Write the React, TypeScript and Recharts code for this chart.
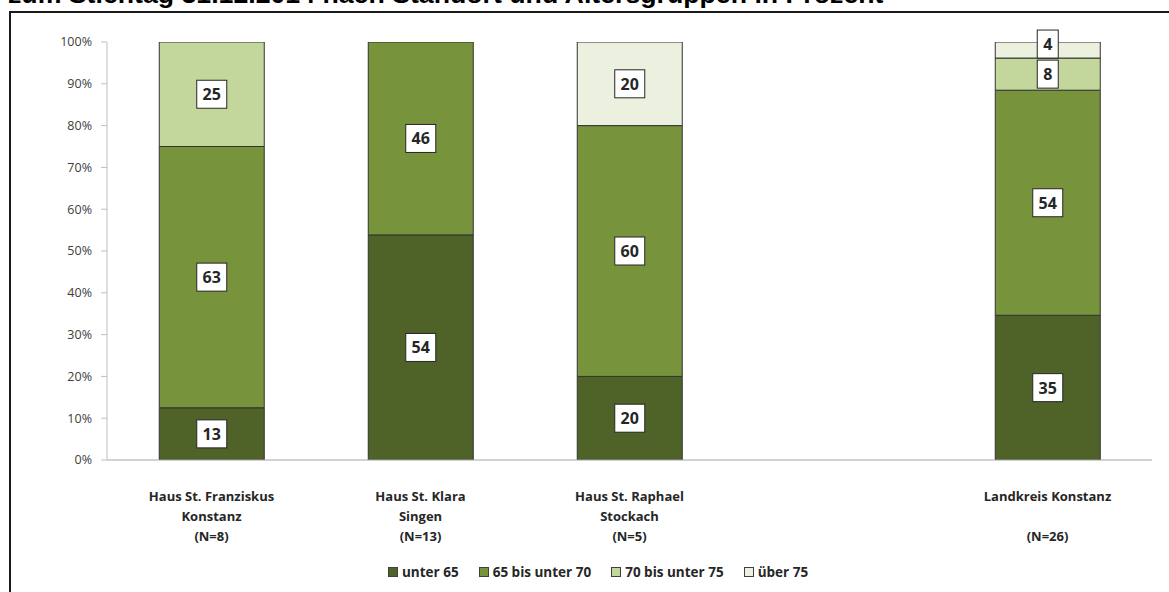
import React from "react";
import { BarChart, Bar, XAxis, YAxis, Legend, LabelList } from "recharts";

const categories = [
  "Haus St. Franziskus\nKonstanz\n(N=8)",
  "Haus St. Klara\nSingen\n(N=13)",
  "Haus St. Raphael\nStockach\n(N=5)",
  "",
  "Landkreis Konstanz\n\n(N=26)",
];
const unter65 = [12.5, 53.85, 20, null, 34.62];
const bis70 = [62.5, 46.15, 60, null, 53.85];
const bis75 = [25, 0, 0, null, 7.69];
const ueber75 = [0, 0, 20, null, 3.84];
const yTicks = [0, 10, 20, 30, 40, 50, 60, 70, 80, 90, 100];

const seriesNames = ["unter 65", "65 bis unter 70", "70 bis unter 75", "über 75"];
const seriesKeys = ["u65", "b70", "b75", "o75"];
const seriesColors = ["#4F6228", "#77933C", "#C3D69B", "#EBF1DE"];

const data = categories.map((c, i) => ({
  name: c,
  u65: unter65[i],
  b70: bis70[i],
  b75: bis75[i],
  o75: ueber75[i],
}));

const FONT = "'Open Sans', sans-serif";

const valueOf = (v: any): number | null => {
  if (v == null) return null;
  if (Array.isArray(v)) return Number(v[1]) - Number(v[0]);
  const n = Number(v);
  return isNaN(n) ? null : n;
};

const BoxLabel = (props: any) => {
  const { x, y, width, height } = props;
  const v = valueOf(props.value);
  if (v == null || v === 0 || !height) return null;
  const txt = String(Math.round(v));
  const boxW = txt.length * 9 + 12;
  const boxH = 28;
  let cy = Number(y) + Number(height) / 2;
  const h = Math.abs(Number(height));
  if (h < boxH - 4) cy -= (boxH - h) / 2;
  const cx = Number(x) + Number(width) / 2;
  return (
    <g>
      <rect x={cx - boxW / 2} y={cy - boxH / 2} width={boxW} height={boxH} fill="#ffffff" stroke="#262626" strokeWidth={1} />
      <text x={cx} y={cy + 6} textAnchor="middle" fontFamily={FONT} fontWeight={700} fontSize={16} fill="#262626">
        {txt}
      </text>
    </g>
  );
};

const CatTick = (props: any) => {
  const { x, y, payload } = props;
  const lines = String(payload.value).split("\n");
  return (
    <g>
      {lines.map((l, i) => (
        <text key={i} x={x} y={y + 33 + i * 20} textAnchor="middle" fontFamily={FONT} fontWeight={700} fontSize={13} fill="#262626">
          {l}
        </text>
      ))}
    </g>
  );
};

const LegendContent = () => (
  <div style={{ display: "flex", alignItems: "center", height: 20, fontFamily: FONT, fontWeight: 700, fontSize: 13.5, color: "#262626", whiteSpace: "nowrap" }}>
    {seriesNames.map((n, i) => (
      <div key={n} style={{ display: "flex", alignItems: "center", marginRight: 20 }}>
        <span style={{ display: "inline-block", width: 8, height: 8, background: seriesColors[i], border: "1px solid #404040", marginRight: 4 }} />
        <span>{n}</span>
      </div>
    ))}
  </div>
);

export default function App() {
  return (
    <div style={{ position: "absolute", left: 0, top: 0, width: 1169, height: 592, overflow: "hidden", background: "#fff" }}>
      <div style={{ position: "absolute", left: 8, top: -21, fontFamily: "'Liberation Sans', Arial, sans-serif", fontWeight: 700, fontSize: 26.7, lineHeight: "30px", color: "#000", whiteSpace: "nowrap" }}>
        zum Stichtag 31.12.2014 nach Standort und Altersgruppen in Prozent
      </div>
      <div style={{ position: "absolute", left: 9, top: 11, width: 1300, height: 700, borderLeft: "2.5px solid #1a1a1a", borderTop: "2.5px solid #1a1a1a", background: "#fff", boxShadow: "0 1px 0 #bbb" }} />
      <div style={{ position: "absolute", left: 0, top: 0 }}>
        <BarChart width={1169} height={592} data={data} margin={{ top: 42, right: 17, left: 47, bottom: 22 }} barCategoryGap="25%">
          <XAxis dataKey="name" interval={0} tick={<CatTick />} tickLine={false} axisLine={{ stroke: "#a6a6a6" }} height={90} />
          <YAxis
            domain={[0, 100]}
            ticks={yTicks}
            allowDataOverflow
            tickFormatter={(v: number) => `${v}%`}
            width={60}
            tickSize={6}
            tickMargin={9}
            tickLine={{ stroke: "#bfbfbf" }}
            axisLine={{ stroke: "#bfbfbf" }}
            tick={{ fontFamily: FONT, fontSize: 12.5, fill: "#404040" }}
          />
          <Legend content={<LegendContent />} verticalAlign="bottom" wrapperStyle={{ left: 388, top: 562, width: "auto", height: 20 }} />
          {seriesKeys.map((k, i) => (
            <Bar key={k} dataKey={k} name={seriesNames[i]} stackId="a" fill={seriesColors[i]} stroke="#333333" strokeWidth={1} isAnimationActive={false}>
              <LabelList dataKey={k} content={<BoxLabel />} />
            </Bar>
          ))}
        </BarChart>
      </div>
    </div>
  );
}
